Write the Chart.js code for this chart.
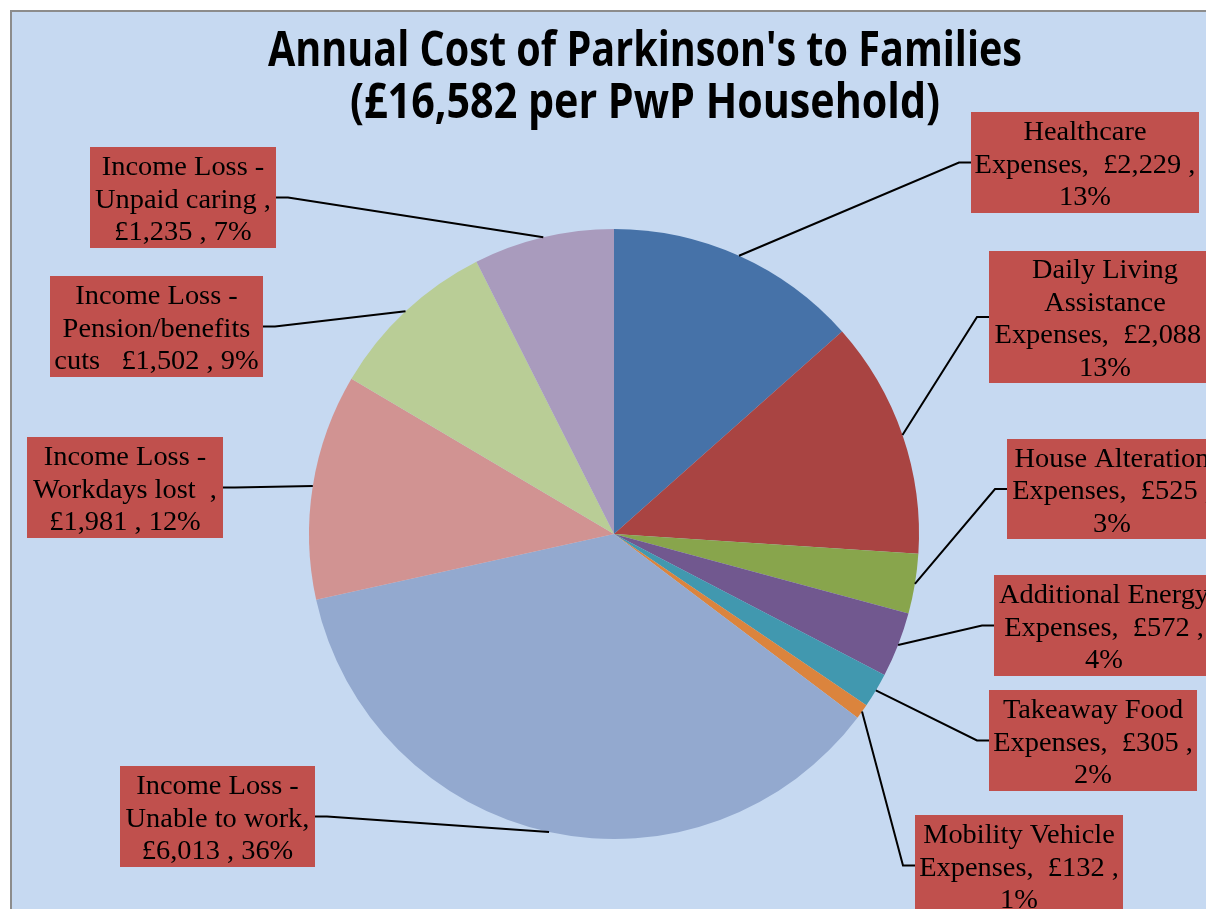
<!DOCTYPE html>
<html>
<head>
  <meta charset="UTF-8">
  <title>Annual Cost of Parkinson's to Families</title>
  <script src="https://cdn.jsdelivr.net/npm/chart.js"></script>
  <style>
    html, body { margin: 0; padding: 0; background: #fff; }
    #wrap { width: 1206px; height: 909px; }
  </style>
</head>
<body>
  <div id="wrap"><canvas id="pie"></canvas></div>

  <script>
  // data
  const categories = [
    'Healthcare Expenses',
    'Daily Living Assistance Expenses',
    'House Alteration Expenses',
    'Additional Energy Expenses',
    'Takeaway Food Expenses',
    'Mobility Vehicle Expenses',
    'Income Loss - Unable to work',
    'Income Loss - Workdays lost',
    'Income Loss - Pension/benefits cuts',
    'Income Loss - Unpaid caring'
  ];
  const costs = [2229, 2088, 525, 572, 305, 132, 6013, 1981, 1502, 1235];
  const percents = ['13%', '13%', '3%', '4%', '2%', '1%', '36%', '12%', '9%', '7%'];
  const titleLines = ["Annual Cost of Parkinson's to Families", '(£16,582 per PwP Household)'];

  // label text as it is broken in the picture
  const labelLines = [
    ['Healthcare', 'Expenses,  £2,229 ,', '13%'],
    ['Daily Living', 'Assistance', 'Expenses,  £2,088 ,', '13%'],
    ['House Alteration', 'Expenses,  £525 ,', '3%'],
    ['Additional Energy', 'Expenses,  £572 ,', '4%'],
    ['Takeaway Food', 'Expenses,  £305 ,', '2%'],
    ['Mobility Vehicle', 'Expenses,  £132 ,', '1%'],
    ['Income Loss -', 'Unable to work,', '£6,013 , 36%'],
    ['Income Loss -', 'Workdays lost  ,', '£1,981 , 12%'],
    ['Income Loss -', 'Pension/benefits', 'cuts   £1,502 , 9%'],
    ['Income Loss -', 'Unpaid caring ,', '£1,235 , 7%']
  ];

  const sliceColors = ['#4672A8', '#A94442', '#88A54C', '#71588F', '#4198AF',
                       '#DB843D', '#93A9CF', '#D19392', '#B9CD96', '#A99BBD'];

  // label box placement [x, y, w, h] and which side the leader enters
  const boxes = [
    [971, 112, 228, 101, 'L'],
    [989, 251, 232, 132, 'L'],
    [1007, 439, 210, 100, 'L'],
    [994, 575, 220, 101, 'L'],
    [989, 690, 208, 101, 'L'],
    [915, 815, 208, 101, 'L'],
    [120, 766, 195, 101, 'R'],
    [27, 437, 196, 101, 'R'],
    [50, 276, 213, 101, 'R'],
    [90, 147, 186, 101, 'R']
  ];

  const frame = {
    id: 'frame',
    beforeDraw(chart) {
      const ctx = chart.ctx;
      ctx.save();
      ctx.fillStyle = '#ffffff';
      ctx.fillRect(0, 0, chart.width, chart.height);
      ctx.fillStyle = '#C6D9F1';
      ctx.fillRect(11, 11, chart.width, chart.height);
      ctx.strokeStyle = '#8c8c8c';
      ctx.lineWidth = 2;
      ctx.beginPath();
      ctx.moveTo(11, chart.height);
      ctx.lineTo(11, 11);
      ctx.lineTo(chart.width, 11);
      ctx.stroke();
      ctx.restore();
    }
  };

  function fitText(ctx, text, cx, y, sx) {
    ctx.save();
    ctx.translate(cx, y);
    ctx.scale(sx, 1);
    ctx.fillText(text, 0, 0);
    ctx.restore();
  }

  const titleAndLabels = {
    id: 'titleAndLabels',
    afterDatasetsDraw(chart) {
      const ctx = chart.ctx;
      const arcs = chart.getDatasetMeta(0).data;
      ctx.save();

      // title, each line squeezed to the width it has in the picture
      ctx.fillStyle = '#000';
      ctx.textAlign = 'center';
      ctx.textBaseline = 'alphabetic';
      ctx.font = 'bold 48px "Open Sans"';
      fitText(ctx, titleLines[0], 645, 66, 754 / ctx.measureText(titleLines[0]).width);
      fitText(ctx, titleLines[1], 645, 118, 590 / ctx.measureText(titleLines[1]).width);

      // leader lines
      ctx.strokeStyle = '#000';
      ctx.lineWidth = 2;
      arcs.forEach((arc, i) => {
        const mid = (arc.startAngle + arc.endAngle) / 2;
        const px = arc.x + Math.cos(mid) * arc.outerRadius;
        const py = arc.y + Math.sin(mid) * arc.outerRadius;
        const [bx, by, bw, bh, side] = boxes[i];
        const ey = by + bh / 2;
        const ex = side === 'L' ? bx : bx + bw;
        const kx = side === 'L' ? bx - 12 : bx + bw + 12;
        ctx.beginPath();
        ctx.moveTo(px, py);
        ctx.lineTo(kx, ey);
        ctx.lineTo(ex, ey);
        ctx.stroke();
      });

      // label boxes
      ctx.font = '27px "Liberation Serif"';
      const lsx = 123 / ctx.measureText('Healthcare').width;
      ctx.textBaseline = 'middle';
      boxes.forEach(([bx, by, bw, bh], i) => {
        ctx.fillStyle = '#C0504D';
        ctx.fillRect(bx, by, bw, bh);
        ctx.fillStyle = '#000';
        const lines = labelLines[i];
        const step = 32.5;
        const top = by + bh / 2 - (lines.length - 1) * step / 2 + 3;
        lines.forEach((t, j) => fitText(ctx, t, bx + bw / 2, top + j * step, lsx));
      });
      ctx.restore();
    }
  };

  new Chart(document.getElementById('pie'), {
    type: 'pie',
    data: {
      labels: categories,
      datasets: [{
        data: costs,
        backgroundColor: sliceColors,
        borderWidth: 0,
        hoverOffset: 0,
        offset: 0
      }]
    },
    options: {
      responsive: true,
      maintainAspectRatio: false,
      animation: false,
      layout: { padding: { top: 229, bottom: 70, left: 309, right: 287 } },
      plugins: {
        legend: { display: false },
        title: { display: false },
        tooltip: { enabled: false }
      }
    },
    plugins: [frame, titleAndLabels]
  });
  </script>
</body>
</html>
